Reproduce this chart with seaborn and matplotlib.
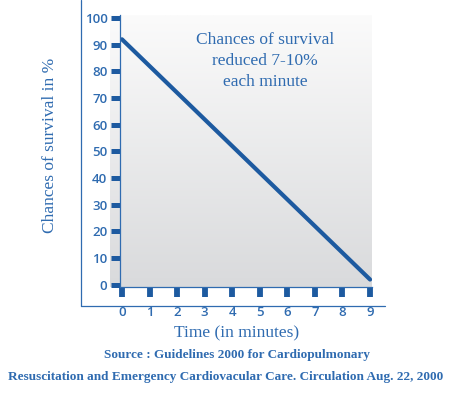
import numpy as np
import matplotlib
matplotlib.use("Agg")
import matplotlib.pyplot as plt
from matplotlib.lines import Line2D
import seaborn as sns

# data
minutes = [0, 9]
survival = [92, 2]
x_ticks = list(range(0, 10))
y_ticks = list(range(0, 101, 10))

blue = "#1d5aa0"
text_blue = "#2f6bb0"

sns.set_style("white")
plt.rcParams["font.family"] = ["Liberation Serif", "DejaVu Serif"]

fig = plt.figure(figsize=(4.5, 3.93), dpi=100)

# grey gradient panel behind the plot (extends a bit under the y ticks)
bg = fig.add_axes([110 / 450, 1 - 287 / 393, 262 / 450, 272 / 393])
grad = np.linspace(0, 1, 256).reshape(-1, 1)
bg.imshow(grad, aspect="auto", cmap=sns.blend_palette(["#fbfbfb", "#d9dadc"], as_cmap=True),
          extent=[0, 1, 0, 1], origin="upper")
bg.set_axis_off()

ax = fig.add_axes([120 / 450, 1 - 287 / 393, 252 / 450, 272 / 393])
ax.patch.set_alpha(0)
sns.lineplot(x=minutes, y=survival, ax=ax, color=blue, linewidth=3.0,
             solid_capstyle="round")
ax.set_xlim(-0.07, 9.07)
ax.set_ylim(-0.8, 101.1)

ax.set_xticks(x_ticks)
ax.set_yticks(y_ticks)
tick_font = dict(family=["Open Sans", "DejaVu Sans"], size=9.5, weight="semibold", color=text_blue)
ax.set_xticklabels([str(t) for t in x_ticks], **tick_font)
ax.set_yticklabels([str(t) for t in y_ticks], **tick_font)
ax.tick_params(axis="y", direction="out", length=6.5, width=3.6, color=blue, pad=2.5, left=True)
ax.tick_params(axis="x", direction="out", length=7, width=4.2, color=blue, pad=7, bottom=True)

for side in ["top", "right"]:
    ax.spines[side].set_visible(False)
for side in ["left", "bottom"]:
    ax.spines[side].set_color(text_blue)
    ax.spines[side].set_linewidth(0.9)

ax.text(0.575, 0.83, "Chances of survival\nreduced 7-10%\neach minute", transform=ax.transAxes,
        ha="center", va="center", fontsize=12.5, color=text_blue, linespacing=1.4)

# outer L frame
fig.add_artist(Line2D([81 / 450, 81 / 450], [1, 1 - 306 / 393], transform=fig.transFigure,
                      color=text_blue, linewidth=0.9))
fig.add_artist(Line2D([81 / 450, 385 / 450], [1 - 306 / 393, 1 - 306 / 393], transform=fig.transFigure,
                      color=text_blue, linewidth=0.9))

fig.text(50 / 450, 1 - 145 / 393, "Chances of survival in %", rotation=90, ha="center", va="center",
         fontsize=12.5, color=text_blue)
fig.text(237 / 450, 1 - 333 / 393, "Time (in minutes)", ha="center", va="center",
         fontsize=12.5, color=text_blue)
fig.text(237 / 450, 1 - 355 / 393, "Source : Guidelines 2000 for Cardiopulmonary", ha="center",
         va="center", fontsize=9.5, color=text_blue, weight="bold")
fig.text(226 / 450, 1 - 377 / 393,
         "Resuscitation and Emergency Cardiovacular Care. Circulation Aug. 22, 2000",
         ha="center", va="center", fontsize=9.5, color=text_blue, weight="bold")

fig.savefig("out.png", dpi=100)
